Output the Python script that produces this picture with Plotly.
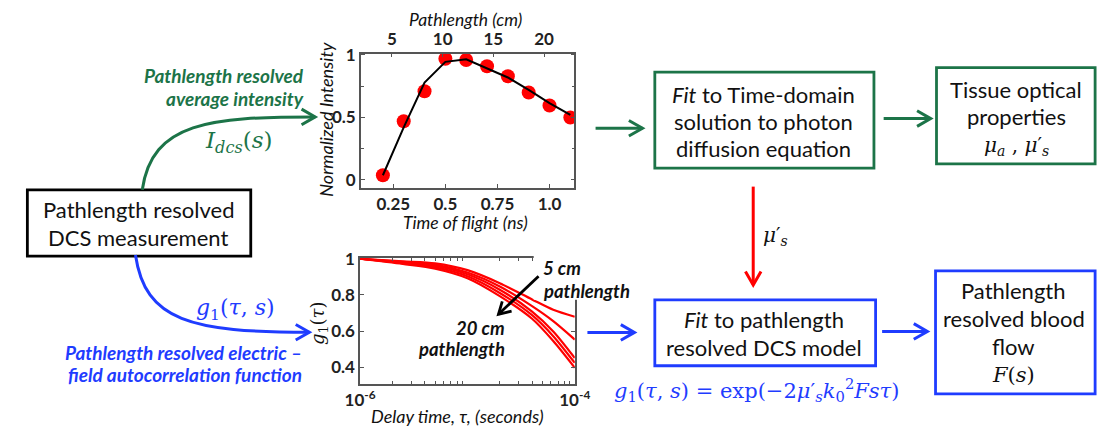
import math
import plotly.graph_objects as go

# ---- data -------------------------------------------------------------
# time-of-flight resolved average intensity
tof_ns = [0.2, 0.3, 0.4, 0.5, 0.6, 0.7, 0.8, 0.9, 1.0, 1.1]
intensity_meas = [0.037, 0.47, 0.71, 0.97, 0.96, 0.91, 0.83, 0.70, 0.595, 0.50]
intensity_fit = [0.037, 0.42, 0.78, 0.945, 0.965, 0.89, 0.82, 0.72, 0.615, 0.52]
speed_cm_per_ns = 29.98 / 1.46          # photon speed in tissue
pathlength_ticks_cm = [5, 10, 15, 20]
tof_ticks_ns = [0.25, 0.5, 0.75, 1.0]
tof_tick_text = ["0.25", "0.5", "0.75", "1.0"]
intensity_ticks = [0, 0.5, 1]

# g1 autocorrelation curves, shortest (5 cm) to longest (20 cm) pathlength
delay_s = [1.0e-6, 2.5e-6, 5.0e-6, 1.0e-5, 2.0e-5, 4.0e-5, 6.3e-5, 1.0e-4]
g1_path1 = [1.0, 0.986, 0.975, 0.937, 0.865, 0.775, 0.718, 0.679]
g1_path2 = [1.0, 0.983, 0.968, 0.924, 0.847, 0.738, 0.655, 0.553]
g1_path3 = [1.0, 0.979, 0.960, 0.914, 0.829, 0.708, 0.598, 0.451]
g1_path4 = [1.0, 0.975, 0.952, 0.903, 0.811, 0.688, 0.572, 0.424]
g1_path5 = [1.0, 0.971, 0.945, 0.892, 0.793, 0.668, 0.545, 0.397]
g1_ticks = [0.4, 0.6, 0.8, 1.0]
g1_tick_text = ["0.4", "0.6", "0.8", "1"]

# ---- figure geometry helpers (pixel -> paper) --------------------------
W, H = 1115, 429
def px(x):
    return x / W
def py(y):
    return 1 - y / H

GREEN = "#1c7448"
BLUE = "#1f3cff"
RED = "#ff0000"
SANS = "Lato"
SERIF = "DejaVu Serif"
AXIS_GREY = "#555555"
BOX_TEXT = 22
NOTE_TEXT = 19

fig = go.Figure()

# ---- top plot: normalized intensity vs time of flight ------------------
fig.add_trace(go.Scatter(
    x=tof_ns, y=intensity_meas, mode="markers",
    marker=dict(color=RED, size=14), xaxis="x", yaxis="y",
    showlegend=False, hoverinfo="skip"))
fig.add_trace(go.Scatter(
    x=tof_ns, y=intensity_fit, mode="lines",
    line=dict(color="black", width=2), xaxis="x", yaxis="y",
    showlegend=False, hoverinfo="skip"))
# invisible trace carrying the pathlength axis on top
fig.add_trace(go.Scatter(
    x=[t * speed_cm_per_ns for t in tof_ns], y=intensity_meas, mode="markers",
    marker=dict(opacity=0), xaxis="x2", yaxis="y",
    showlegend=False, hoverinfo="skip"))

# ---- bottom plot: g1 vs delay time -------------------------------------
for g in [g1_path1, g1_path2, g1_path3, g1_path4, g1_path5]:
    fig.add_trace(go.Scatter(
        x=delay_s, y=g, mode="lines",
        line=dict(color=RED, width=2.2, shape="spline", smoothing=0.8),
        xaxis="x3", yaxis="y3", showlegend=False, hoverinfo="skip"))

tick_font = dict(family=SANS, size=17, color="#222222", weight="bold")
tof_range = [0.094, 1.12]
axis_common = dict(showline=True, linecolor=AXIS_GREY, linewidth=1.5,
                   showgrid=False, zeroline=False, ticks="inside",
                   tickcolor=AXIS_GREY, ticklen=4, tickfont=tick_font)

minor_log = [k * 10 ** e for e in (-6, -5) for k in range(2, 10)]

fig.update_layout(
    width=W, height=H,
    margin=dict(l=0, r=0, t=0, b=0),
    paper_bgcolor="white", plot_bgcolor="white",
    xaxis=dict(domain=[px(355), px(575)], range=tof_range, anchor="y",
               tickvals=tof_ticks_ns, ticktext=tof_tick_text, mirror=True,
               **axis_common),
    xaxis2=dict(overlaying="x", side="top", anchor="y",
                range=[tof_range[0] * speed_cm_per_ns, tof_range[1] * speed_cm_per_ns],
                tickvals=pathlength_ticks_cm, **axis_common),
    yaxis=dict(domain=[py(183), py(45)], range=[-0.064, 1.01], anchor="x",
               tickvals=intensity_ticks, ticktext=["0", "0.5", "1"], mirror="ticks",
               minor=dict(dtick=0.25, ticks="inside", ticklen=3, tickcolor=AXIS_GREY),
               **axis_common),
    xaxis3=dict(domain=[px(354.3), px(575.3)], type="log", range=[-6, -4], anchor="y3",
                tickvals=[1e-6, 1e-4], ticktext=["10<sup>-6</sup>", "10<sup>-4</sup>"],
                mirror="ticks",
                minor=dict(tickvals=minor_log, ticks="inside", ticklen=3, tickcolor=AXIS_GREY),
                **axis_common),
    yaxis3=dict(domain=[py(385), py(255)], range=[0.306, 1.005], anchor="x3",
                tickvals=g1_ticks, ticktext=g1_tick_text, mirror="ticks",
                **axis_common),
)

shapes = []
annotations = []

def box(x0, y0, x1, y1, color, width=2.8):
    shapes.append(dict(type="rect", xref="paper", yref="paper",
                       x0=px(x0), y0=py(y0), x1=px(x1), y1=py(y1),
                       line=dict(color=color, width=width), fillcolor="rgba(0,0,0,0)"))

def head(tip, direction, color, width=3, length=14, spread=8):
    dx, dy = direction
    n = math.hypot(dx, dy)
    dx, dy = dx / n, dy / n
    nx, ny = -dy, dx
    ax_, ay_ = tip[0] - length * dx + spread * nx, tip[1] - length * dy + spread * ny
    bx_, by_ = tip[0] - length * dx - spread * nx, tip[1] - length * dy - spread * ny
    path = (f"M {px(ax_)},{py(ay_)} L {px(tip[0])},{py(tip[1])} "
            f"L {px(bx_)},{py(by_)}")
    shapes.append(dict(type="path", xref="paper", yref="paper", path=path,
                       line=dict(color=color, width=width), layer="above"))

def arrow(start, tip, color, width=3, **kw):
    shapes.append(dict(type="line", xref="paper", yref="paper",
                       x0=px(start[0]), y0=py(start[1]), x1=px(tip[0]), y1=py(tip[1]),
                       line=dict(color=color, width=width), layer="above"))
    head(tip, (tip[0] - start[0], tip[1] - start[1]), color, width, **kw)

def curve(p0, p1, p2, p3, color, width=3):
    path = (f"M {px(p0[0])},{py(p0[1])} C {px(p1[0])},{py(p1[1])} "
            f"{px(p2[0])},{py(p2[1])} {px(p3[0])},{py(p3[1])}")
    shapes.append(dict(type="path", xref="paper", yref="paper", path=path,
                       line=dict(color=color, width=width)))
    head(p3, (p3[0] - p2[0], p3[1] - p2[1]), color, width)

def text(s, x, y, size=BOX_TEXT, color="#111111", family=SANS, xanchor="center",
         textangle=0, weight="normal"):
    annotations.append(dict(
        text=s, x=px(x), y=py(y), xref="paper", yref="paper",
        xanchor=xanchor, yanchor="middle", showarrow=False,
        font=dict(family=family, size=size, color=color, weight=weight),
        textangle=textangle))

# ---- source box and its two branches ----------------------------------
box(11.7, 185, 241.7, 253.3, "black")
text("Pathlength resolved", 126, 205)
text("DCS measurement", 126, 234)

curve((130, 185), (140, 115), (200, 110), (308, 110), GREEN)
text("<i>Pathlength resolved</i>", 299, 67, size=NOTE_TEXT, color=GREEN, xanchor="right", weight="bold")
text("<i>average intensity</i>", 299, 91.5, size=NOTE_TEXT, color=GREEN, xanchor="right", weight="bold")
text("<i>I</i><sub><i>dcs</i></sub>(<i>s</i>)", 229, 136, size=23, color=GREEN, family=SERIF)

curve((123, 252), (133, 320), (180, 331.5), (302, 331.5), BLUE)
text("<i>g</i><sub>1</sub>(<i>τ</i>, <i>s</i>)", 226, 308, size=22, color=BLUE, family=SERIF)
text("<i>Pathlength resolved electric –</i>", 296, 352, size=NOTE_TEXT, color=BLUE, xanchor="right", weight="bold")
text("<i>field autocorrelation function</i>", 296, 375, size=NOTE_TEXT, color=BLUE, xanchor="right", weight="bold")

# ---- plot axis titles --------------------------------------------------
text("<i>Pathlength (cm)</i>", 463, 10, size=17.5)
text("<i>Time of flight (ns)</i>", 463, 219, size=17.5)
text("<i>Normalized Intensity</i>", 319, 112, size=18, textangle=-90)
text("<i>Delay time, τ, (seconds)</i>", 455, 418, size=18)
text("<i>g</i><sub>1</sub>(<i>τ</i>)", 312, 322, size=18, family=SERIF, textangle=-90)

# labels inside the g1 plot
shapes.append(dict(type="rect", xref="paper", yref="paper", layer="above",
                   x0=px(533), y0=py(247), x1=px(634), y1=py(298),
                   line=dict(width=0), fillcolor="white"))
text("<i>5 cm</i>", 540, 265, size=18.5, xanchor="left", weight="bold")
text("<i>pathlength</i>", 541, 289, size=18.5, xanchor="left", weight="bold")
text("<i>20 cm</i>", 506, 327, size=18.5, xanchor="right", weight="bold")
text("<i>pathlength</i>", 506, 349, size=18.5, xanchor="right", weight="bold")
arrow((538, 274), (496.7, 313), "black", width=2.8, length=12, spread=7)

# ---- optical-property fit branch (green) -------------------------------
arrow((596.7, 121.7), (645, 121.7), GREEN)
box(657.7, 64, 883.3, 162.7, GREEN)
text("<i>Fit</i> to Time-domain", 770, 87)
text("solution to photon", 770, 115)
text("diffusion equation", 770, 142)
arrow((893.3, 111.7), (941.7, 111.7), GREEN)
box(947.7, 59.3, 1111, 158.3, GREEN)
text("Tissue optical", 1030, 82)
text("properties", 1030, 110)
text("<i>μ</i><sub><i>a</i></sub> , <i>μ</i>′<sub><i>s</i></sub>", 1030, 140, size=20, family=SERIF)

# scattering coefficient passed down
arrow((759, 181.7), (759, 283), RED)
text("<i>μ</i>′<sub><i>s</i></sub>", 782, 233, size=20, family=SERIF)

# ---- blood flow fit branch (blue) --------------------------------------
arrow((588.3, 331.7), (636.7, 331.7), BLUE)
box(657.7, 298.3, 885, 366, BLUE)
text("<i>Fit</i> to pathlength", 770, 318.5)
text("resolved DCS model", 770, 347)
text("<i>g</i><sub>1</sub>(<i>τ</i>, <i>s</i>) = exp(−2<i>μ</i>′<sub><i>s</i></sub><i>k</i><sub>0</sub><sup>2</sup><i>Fsτ</i>)",
     762, 391, size=21, color=BLUE, family=SERIF)
arrow((891.7, 330.7), (938.3, 330.7), BLUE)
box(946.7, 268.3, 1111, 395, BLUE)
text("Pathlength", 1027, 288.5)
text("resolved blood", 1027, 317.5)
text("flow", 1027, 346)
text("<i>F</i>(<i>s</i>)", 1027, 375, size=21, family=SERIF)

fig.update_layout(shapes=shapes, annotations=annotations)
fig.write_html("out.html")
